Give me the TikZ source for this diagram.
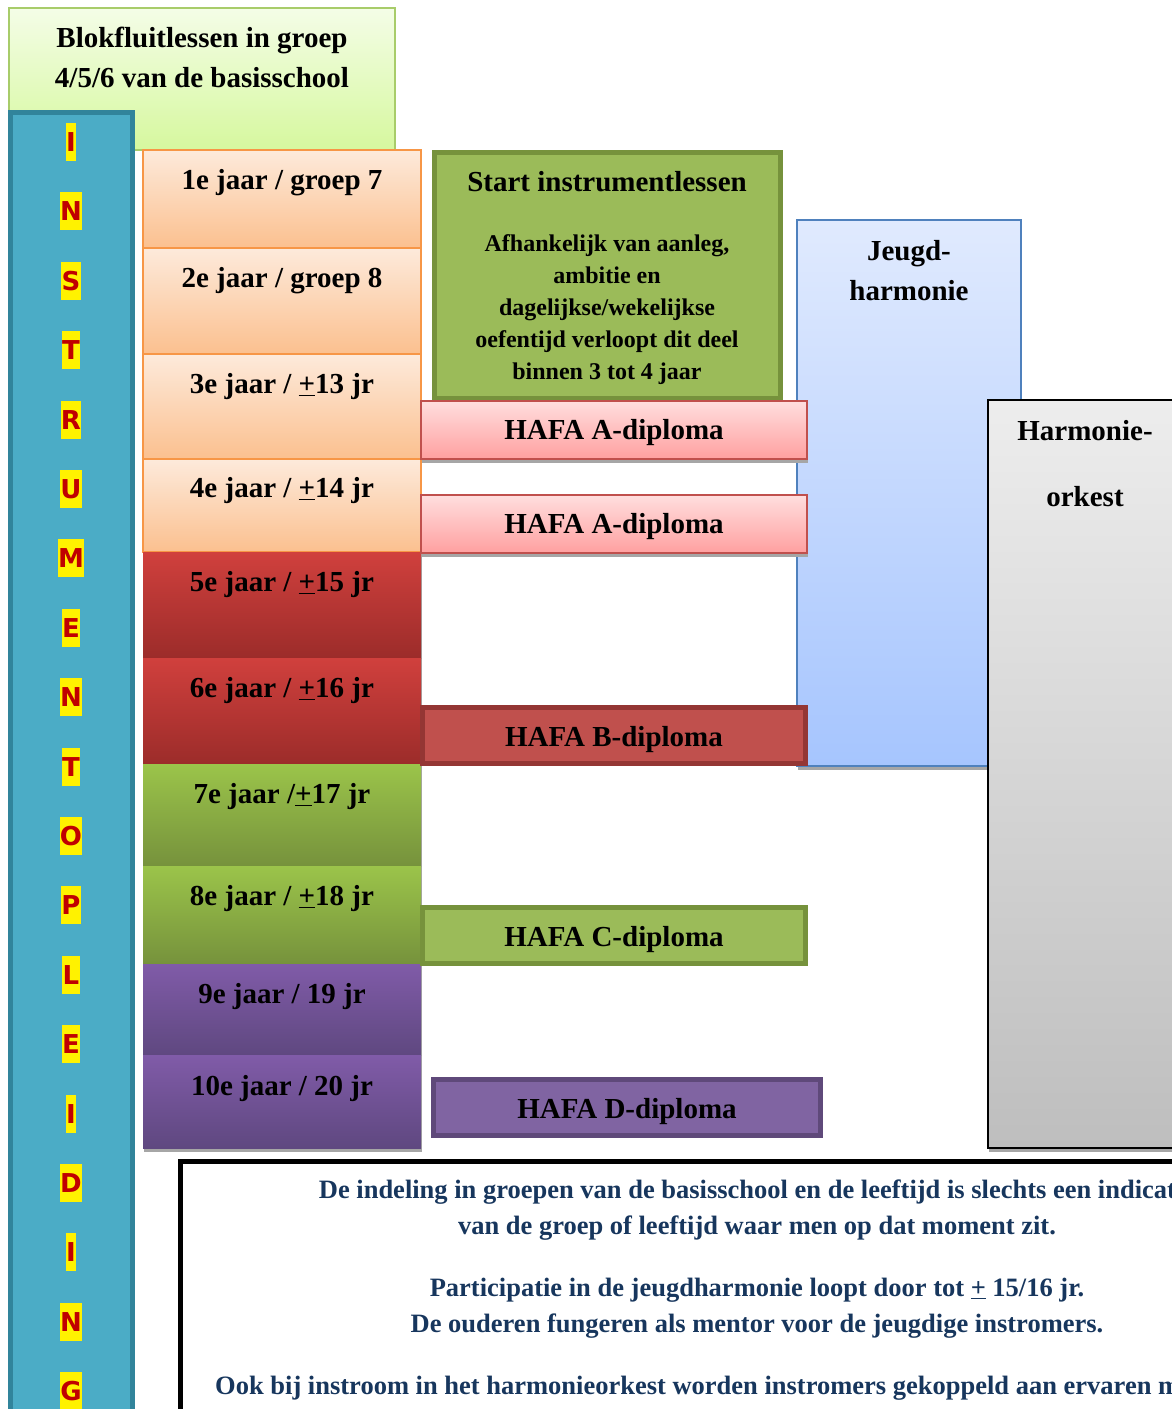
\documentclass[tikz,border=0pt]{standalone}
\usepackage{fontspec}
\setmainfont{Liberation Serif}
\newfontfamily\letterfont{DejaVu Sans}
\usetikzlibrary{positioning,shadows}

\definecolor{blokTop}{RGB}{244,253,231}
\definecolor{blokBot}{RGB}{214,248,158}
\definecolor{blokLine}{RGB}{168,204,106}
\definecolor{barFill}{RGB}{75,172,198}
\definecolor{barLine}{RGB}{49,132,155}
\definecolor{letRed}{RGB}{192,0,0}
\definecolor{peachTop}{RGB}{253,234,219}
\definecolor{peachBot}{RGB}{251,192,143}
\definecolor{peachLine}{RGB}{247,150,70}
\definecolor{redTop}{RGB}{208,64,61}
\definecolor{redBot}{RGB}{156,44,42}
\definecolor{greenTop}{RGB}{155,196,74}
\definecolor{greenBot}{RGB}{118,146,60}
\definecolor{purpTop}{RGB}{128,91,168}
\definecolor{purpBot}{RGB}{95,72,128}
\definecolor{pinkTop}{RGB}{255,222,222}
\definecolor{pinkBot}{RGB}{255,160,160}
\definecolor{hafaRed}{RGB}{192,80,77}
\definecolor{hafaRedLine}{RGB}{148,54,52}
\definecolor{hafaGreen}{RGB}{155,187,89}
\definecolor{hafaGreenLine}{RGB}{118,146,60}
\definecolor{hafaPurp}{RGB}{128,100,162}
\definecolor{hafaPurpLine}{RGB}{95,73,122}
\definecolor{jeugdTop}{RGB}{224,234,254}
\definecolor{jeugdBot}{RGB}{166,197,254}
\definecolor{jeugdLine}{RGB}{79,129,189}
\definecolor{harmTop}{RGB}{237,237,237}
\definecolor{harmBot}{RGB}{190,190,190}
\definecolor{noteBlue}{RGB}{23,54,93}

\begin{document}
\begin{tikzpicture}[x=1pt,y=-1pt,
  panel/.style={anchor=north west,inner sep=0pt,outer sep=0pt},
  boxshadow/.style={general shadow={fill=black!35,shadow xshift=1pt,shadow yshift=-4pt}},
  bigtext/.style={font=\fontsize{29}{40}\selectfont\bfseries,align=center},
  smalltext/.style={font=\fontsize{24}{32}\selectfont\bfseries,align=center},
  letter/.style={fill=yellow,text=letRed,inner xsep=0.3pt,inner ysep=0pt,minimum height=38,
    font=\letterfont\bfseries\fontsize{26}{26}\selectfont},
  jaar/.style={panel,boxshadow,minimum width=278},
  peach/.style={jaar,top color=peachTop,bottom color=peachBot,draw=peachLine,line width=1.5pt},
  rood/.style={jaar,top color=redTop,bottom color=redBot},
  groen/.style={jaar,top color=greenTop,bottom color=greenBot},
  paars/.style={jaar,top color=purpTop,bottom color=purpBot},
  hafa/.style={panel,minimum width=386,minimum height=58},
  hafathick/.style={hafa,line width=5pt,minimum width=383,minimum height=56}
]
\useasboundingbox (0,0) rectangle (1172,1409);
\clip (0,0) rectangle (1172,1409);

% blokfluit
\node[panel,top color=blokTop,bottom color=blokBot,draw=blokLine,line width=1.5pt,
  minimum width=386,minimum height=142] (blok) at (9,8) {};
\node[bigtext] (bloktxt) at (202,57) {Blokfluitlessen in groep\\4/5/6 van de basisschool};

% vertical bar
\node[panel,fill=barFill,draw=barLine,line width=5pt,minimum width=122,minimum height=1320] (balk) at (10.5,112.5) {};
\foreach \l [count=\i] in {I,N,S,T,R,U,M,E,N,T,O,P,L,E,I,D,I,N,G}
  \node[letter] (L\i) at (71,{142+69.4*(\i-1)}) {\l};

% years
\node[peach,minimum height=98] (jaar1) at (143,150) {};
\node[bigtext] (txt1) at ([yshift=-33pt]jaar1.north) {1e jaar / groep 7};
\node[peach,minimum height=106] (jaar2) at (143,248) {};
\node[bigtext] (txt2) at ([yshift=-33pt]jaar2.north) {2e jaar / groep 8};
\node[peach,minimum height=105] (jaar3) at (143,354) {};
\node[bigtext] (txt3) at ([yshift=-33pt]jaar3.north) {3e jaar / \underline{+}13 jr};
\node[peach,minimum height=93] (jaar4) at (143,459) {};
\node[bigtext] (txt4) at ([yshift=-32pt]jaar4.north) {4e jaar / \underline{+}14 jr};
\node[rood,minimum height=106] (jaar5) at (143,552) {};
\node[bigtext] (txt5) at ([yshift=-33pt]jaar5.north) {5e jaar / \underline{+}15 jr};
\node[rood,minimum height=106] (jaar6) at (143,658) {};
\node[bigtext] (txt6) at ([yshift=-33pt]jaar6.north) {6e jaar / \underline{+}16 jr};
\node[groen,minimum height=102] (jaar7) at (143,764) {};
\node[bigtext] (txt7) at ([yshift=-33pt]jaar7.north) {7e jaar /\underline{+}17 jr};
\node[groen,minimum height=98] (jaar8) at (143,866) {};
\node[bigtext] (txt8) at ([yshift=-33pt]jaar8.north) {8e jaar / \underline{+}18 jr};
\node[paars,minimum height=91] (jaar9) at (143,964) {};
\node[bigtext] (txt9) at ([yshift=-33pt]jaar9.north) {9e jaar / 19 jr};
\node[paars,minimum height=93] (jaar10) at (143,1055) {};
\node[bigtext] (txt10) at ([yshift=-34pt]jaar10.north) {10e jaar / 20 jr};

% start instrumentlessen
\node[panel,fill=hafaGreen,draw=hafaGreenLine,line width=5pt,minimum width=346,minimum height=246] (start) at (434.5,152.5) {};
\node[bigtext] (starttxt) at (607,182) {Start instrumentlessen};
\node[smalltext] (startinfo) at (607,310) {Afhankelijk van aanleg,\\ambitie en\\dagelijkse/wekelijkse\\oefentijd verloopt dit deel\\binnen 3 tot 4 jaar};

% jeugdharmonie
\node[panel,boxshadow,top color=jeugdTop,bottom color=jeugdBot,draw=jeugdLine,line width=1.2pt,
  minimum width=224,minimum height=546] (jeugd) at (797,220) {};
\node[bigtext] (jeugdtxt) at (909,271) {Jeugd-\\harmonie};

% diplomas
\node[hafa,boxshadow,top color=pinkTop,bottom color=pinkBot,draw=hafaRed,line width=1.5pt] (hafaA1) at (421,401) {};
\node[bigtext] (hafaA1txt) at ([yshift=-3pt]hafaA1.center) {HAFA A-diploma};
\node[hafa,boxshadow,top color=pinkTop,bottom color=pinkBot,draw=hafaRed,line width=1.5pt] (hafaA2) at (421,495) {};
\node[bigtext] (hafaA2txt) at ([yshift=-3pt]hafaA2.center) {HAFA A-diploma};
\node[hafathick,fill=hafaRed,draw=hafaRedLine] (hafaB) at (422.5,707.5) {};
\node[bigtext] (hafaBtxt) at ([yshift=-4pt]hafaB.center) {HAFA B-diploma};
\node[hafathick,fill=hafaGreen,draw=hafaGreenLine] (hafaC) at (422.5,907.5) {};
\node[bigtext] (hafaCtxt) at ([yshift=-4pt]hafaC.center) {HAFA C-diploma};
\node[hafathick,fill=hafaPurp,draw=hafaPurpLine,minimum width=387] (hafaD) at (433.5,1079.5) {};
\node[bigtext] (hafaDtxt) at ([yshift=-4pt]hafaD.center) {HAFA D-diploma};

% harmonieorkest
\node[panel,boxshadow,top color=harmTop,bottom color=harmBot,draw=black,line width=2pt,
  minimum width=220,minimum height=748] (harm) at (988,400) {};
\node[bigtext] (harmtxt) at (1085,464) {Harmonie-\\[26pt]orkest};

% note
\node[panel,draw=black,line width=5pt,minimum width=1100,minimum height=400] (noot) at (180.5,1161.5) {};
\node[font=\fontsize{26.5}{36}\selectfont\bfseries,align=center,text=noteBlue] (noottxt) at (757,1290)
  {De indeling in groepen van de basisschool en de leeftijd is slechts een indicatie\\
   van de groep of leeftijd waar men op dat moment zit.\\[26pt]
   Participatie in de jeugdharmonie loopt door tot \underline{+} 15/16 jr.\\
   De ouderen fungeren als mentor voor de jeugdige instromers.\\[26pt]
   Ook bij instroom in het harmonieorkest worden instromers gekoppeld aan ervaren muzikanten.};
\end{tikzpicture}
\end{document}
